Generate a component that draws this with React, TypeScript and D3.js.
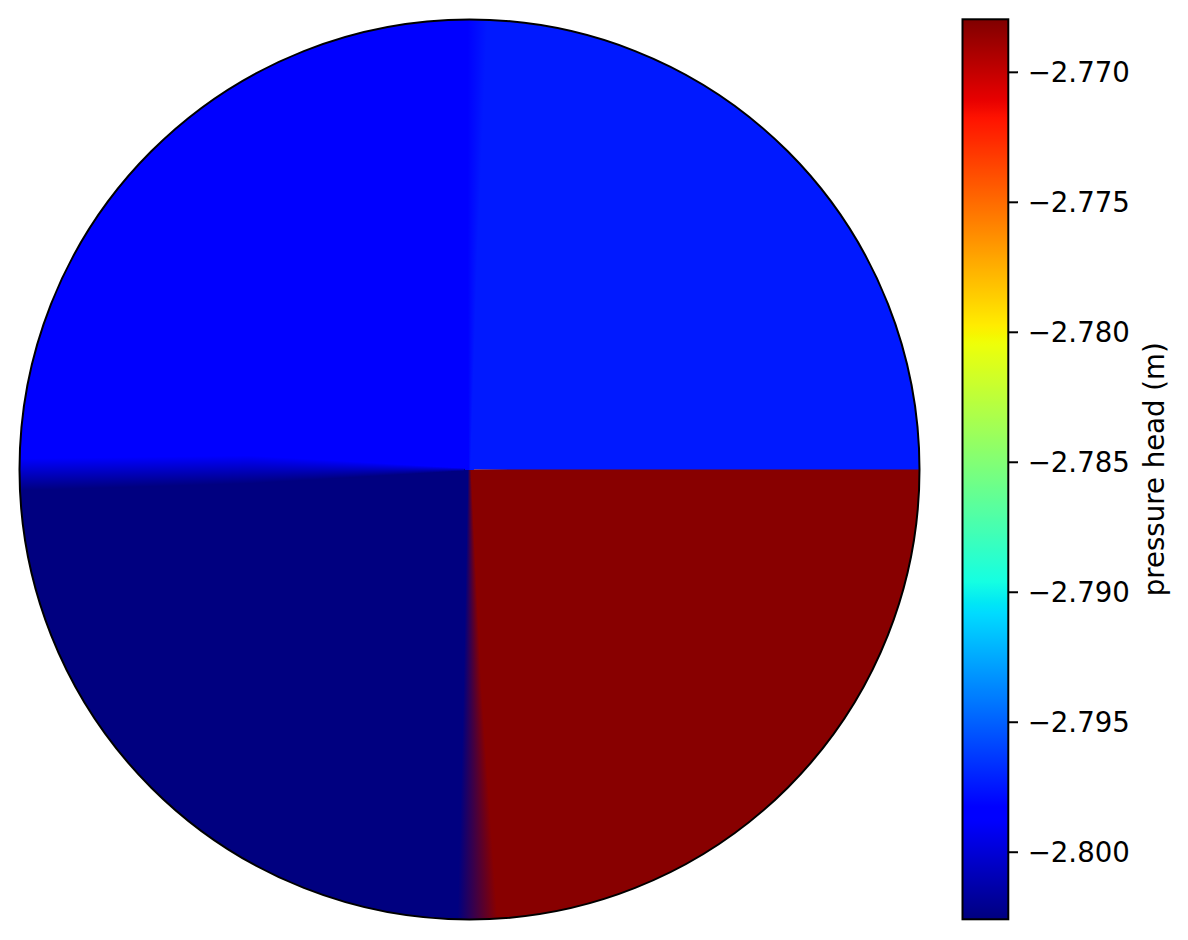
import React from 'react';
import * as d3 from 'd3';

const W = 1188;
const H = 940;

// colour scale (pressure head, m)
const colorRange = [-2.80258, -2.76796];
const colorbarTicks = [-2.77, -2.775, -2.78, -2.785, -2.79, -2.795, -2.8];
const colorbarLabel = 'pressure head (m)';

// quadrant values: upper right, lower right, lower left, upper left
const quadrantNames = ['upper right', 'lower right', 'lower left', 'upper left'];
const quadrantValues = [-2.7974, -2.7682, -2.80258, -2.7985];

// smoothing across quadrant borders (px vs distance from centre)
const blendRadius = [0, 220, 450];
const leftBlendWidth = [2, 28, 32];
const leftBlendShift = [0, 0, 5];
const bottomBlendWidth = [3, 18, 40];
const bottomBlendShift = [0, 3, 8];
const topBlendWidth = [2, 10, 20];
const topBlendShift = [0, 3, 8];

// matplotlib "jet"
const jetR = [[0, 0], [0.35, 0], [0.66, 1], [0.89, 1], [1, 0.5]];
const jetG = [[0, 0], [0.125, 0], [0.375, 1], [0.64, 1], [0.91, 0], [1, 0]];
const jetB = [[0, 0.5], [0.11, 1], [0.34, 1], [0.65, 0], [1, 0]];

function seg(pts: number[][], t: number) {
  const s = d3.scaleLinear().domain(pts.map(p => p[0])).range(pts.map(p => p[1])).clamp(true);
  return s(t);
}
function jet(t: number) {
  const c = (v: number) => Math.round(Math.max(0, Math.min(1, v)) * 255);
  return d3.rgb(c(seg(jetR, t)), c(seg(jetG, t)), c(seg(jetB, t))).formatHex();
}

export default function App() {
  const cx = 469.5, cy = 469.5, R = 450;
  const cbX = 962.5, cbW = 45.8, cbTop = 19.3, cbBot = 919.3;

  const tScale = d3.scaleLinear().domain(colorRange).range([0, 1]).clamp(true);
  const color = (v: number) => jet(tScale(v));
  const yScale = d3.scaleLinear().domain(colorRange).range([cbBot, cbTop]);
  const fmt = d3.format('.3f');

  const [cUR, cLR, cLL, cUL] = quadrantValues.map(color);

  const arc = d3.arc<any>();
  const eps = 0.01;
  const wedges = quadrantValues.map((v, i) => ({
    name: quadrantNames[i],
    d: arc({ innerRadius: 0, outerRadius: R, startAngle: (i * Math.PI) / 2, endAngle: ((i + 1) * Math.PI) / 2 + eps }) as string,
    fill: color(v),
  }));

  const mk = (w: number[], s: number[]) => ({
    w: d3.scaleLinear().domain(blendRadius).range(w),
    s: d3.scaleLinear().domain(blendRadius).range(s),
  });
  const left = mk(leftBlendWidth, leftBlendShift);
  const bottom = mk(bottomBlendWidth, bottomBlendShift);
  const top = mk(topBlendWidth, topBlendShift);

  const step = 3;
  const strips: { id: string; x1: number; y1: number; x2: number; y2: number; c1: string; c2: string; rx: number; ry: number; rw: number; rh: number }[] = [];
  // left border: upper left -> lower left
  for (let x = Math.floor(cx - R); x < cx; x += step) {
    const d = cx - (x + step / 2);
    const w = left.w(d), s = left.s(d);
    const yc = cy + s;
    strips.push({ id: 'gl' + x, x1: 0, y1: yc - w / 2, x2: 0, y2: yc + w / 2, c1: cUL, c2: cLL, rx: x, ry: Math.floor(yc - w / 2 - 3), rw: Math.min(step, cx - x), rh: Math.ceil(w + 6) });
  }
  // bottom border: lower left -> lower right
  for (let y = Math.floor(cy); y < cy + R + 2; y += step) {
    const d = y + step / 2 - cy;
    const w = bottom.w(d), s = bottom.s(d);
    const xc = cx + s;
    strips.push({ id: 'gb' + y, x1: xc - w / 2, y1: 0, x2: xc + w / 2, y2: 0, c1: cLL, c2: cLR, rx: Math.floor(xc - w / 2 - 3), ry: y, rw: Math.ceil(w + 6), rh: step });
  }
  // top border: upper left -> upper right
  for (let y = Math.floor(cy - R - 2); y < cy; y += step) {
    const d = cy - (y + step / 2);
    const w = top.w(Math.max(0, d)), s = top.s(Math.max(0, d));
    const xc = cx + s;
    strips.push({ id: 'gt' + y, x1: xc - w / 2, y1: 0, x2: xc + w / 2, y2: 0, c1: cUL, c2: cUR, rx: Math.floor(xc - w / 2 - 3), ry: y, rw: Math.ceil(w + 6), rh: Math.min(step, cy - y) });
  }

  const cbStops = d3.range(0, 257).map(i => i / 256);
  const font = "'DejaVu Sans', sans-serif";
  const fs = 27.6;

  return (
    <svg width={W} height={H} style={{ position: 'absolute', left: 0, top: 0, background: '#fff' }} xmlns="http://www.w3.org/2000/svg">
      <defs>
        <clipPath id="disk">
          <circle cx={cx} cy={cy} r={R} />
        </clipPath>
        <linearGradient id="cbgrad" x1="0" y1="1" x2="0" y2="0">
          {cbStops.map(t => (
            <stop key={t} offset={t} stopColor={jet(t)} />
          ))}
        </linearGradient>
        {strips.map(s => (
          <linearGradient key={s.id} id={s.id} gradientUnits="userSpaceOnUse" x1={s.x1} y1={s.y1} x2={s.x2} y2={s.y2}>
            <stop offset={0} stopColor={s.c1} />
            <stop offset={1} stopColor={s.c2} />
          </linearGradient>
        ))}
      </defs>

      <g transform={`translate(${cx},${cy})`}>
        {wedges.map(w => (
          <path key={w.name} d={w.d} fill={w.fill} />
        ))}
      </g>
      <g clipPath="url(#disk)" shapeRendering="crispEdges">
        {strips.map(s => (
          <rect key={s.id} x={s.rx} y={s.ry} width={s.rw} height={s.rh} fill={`url(#${s.id})`} />
        ))}
      </g>
      <circle cx={cx} cy={cy} r={R} fill="none" stroke="#000" strokeWidth={2} />

      {/* colorbar */}
      <rect x={cbX} y={cbTop} width={cbW} height={cbBot - cbTop} fill="url(#cbgrad)" stroke="#000" strokeWidth={2} />
      <g fontFamily={font} fontSize={fs}>
        {colorbarTicks.map(v => (
          <g key={v} transform={`translate(${cbX + cbW},${yScale(v)})`}>
            <line x1={0} x2={9.7} y1={0} y2={0} stroke="#000" strokeWidth={2} />
            <text x={19.4} dy="0.35em" fill="#000">{fmt(v)}</text>
          </g>
        ))}
        <text transform={`translate(1164,${(cbTop + cbBot) / 2}) rotate(-90)`} textAnchor="middle" fill="#000">{colorbarLabel}</text>
      </g>
    </svg>
  );
}
